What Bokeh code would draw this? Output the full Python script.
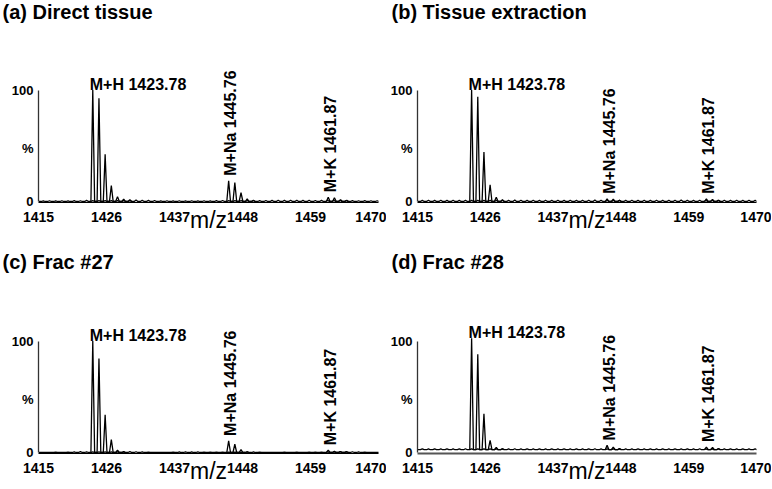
from bokeh.plotting import figure
from bokeh.models import Range1d, FixedTicker
from bokeh.layouts import row, column
from bokeh.core.properties import value
from bokeh.embed import file_html
from bokeh.resources import INLINE

# ---------------- data ----------------
x_ticks = [1415, 1426, 1437, 1448, 1459, 1470]
y_ticks = [0, 48, 100]
y_tick_labels = {0: "0", 48: "%", 100: "100"}
titles = ["(a) Direct tissue", "(b) Tissue extraction", "(c) Frac #27", "(d) Frac #28"]
ion_labels = ["M+H 1423.78", "M+Na 1445.76", "M+K 1461.87"]
ion_mz = [1423.78, 1445.76, 1461.87]
isotope_step = 1.0          # Da between isotope peaks / baseline ripples
noise_mz0 = 1415.78         # m/z of first baseline ripple

# isotope peak intensities (% of base peak) starting at each ion m/z
a_mh = [100, 92.6, 42.3, 14.2, 4.4, 2.0, 1.6]
a_mna = [18.6, 16.9, 8.0, 2.4, 1.0]
a_mk = [3.8, 3.3, 1.5, 1.0]

b_mh = [100, 94.0, 44.4, 15.0, 3.9, 1.5]
b_mna = [2.4, 2.0, 1.0]
b_mk = [2.4, 1.8, 1.0]

c_mh = [100, 84.3, 33.8, 11.6, 2.0, 0.8]
c_mna = [10.4, 7.4, 2.7, 0.6]
c_mk = [2.0, 1.2, 0.8, 0.6]

d_mh = [100, 85.7, 32.2, 8.4, 2.0, 0.8]
d_mna = [3.9, 2.4, 1.0]
d_mk = [2.4, 2.0, 1.0]

# baseline ripples (%), one per Da from 1415.78 to 1469.78
a_noise = [0.6, 0.7, 0.6, 0.7, 0.6, 0.8, 0.7, 1.0,
           0.8, 0.8, 0.8, 0.8, 0.8, 0.8, 0.8,
           1.4, 1.2, 1.0, 0.9,
           0.6, 0.7, 0.6, 0.7, 0.6, 0.7, 0.6, 0.7, 0.6, 0.8, 0.9,
           0.8, 0.8, 0.8, 0.8, 0.9,
           0.8, 0.9, 1.0, 1.1, 1.2, 1.1, 1.2, 1.0, 1.1, 0.9, 1.0,
           1.0, 1.0, 1.0, 0.9,
           0.8, 0.7, 0.8, 0.7, 0.7]
b_noise = [1.0, 1.1, 1.0, 1.1, 1.0, 1.1, 1.0, 1.2,
           1.0, 1.0, 1.0, 1.0, 1.0, 1.0, 1.0,
           1.3, 1.1, 1.0, 1.1,
           1.0, 1.1, 1.0, 1.1, 1.0, 1.1, 1.0, 1.2, 1.1, 1.3, 1.2,
           1.0, 1.0, 1.0, 1.0, 1.1,
           1.0, 1.1, 1.0, 1.1, 1.0, 1.2, 1.1, 1.3, 1.2, 1.0, 1.1,
           1.0, 1.1, 1.2, 1.1,
           1.0, 1.1, 1.0, 1.1, 1.0]
c_noise = [0.2, 0.2, 0.3, 0.2, 0.3, 0.6, 0.8, 0.6,
           0.5, 0.5, 0.5, 0.5, 0.5, 0.5, 0.8,
           0.7, 0.6, 0.3, 0.2,
           0.2, 0.2, 0.3, 0.5, 0.6, 0.5, 0.6, 0.4, 0.3, 0.3, 0.4,
           0.4, 0.4, 0.4, 0.6, 0.5,
           0.3, 0.2, 0.2, 0.2, 0.3, 0.2, 0.3, 0.2, 0.3, 0.3, 0.4,
           0.5, 0.6, 0.8, 0.8,
           0.7, 0.6, 0.3, 0.2, 0.2]
d_noise = [0.7, 0.8, 0.7, 0.8, 0.7, 0.8, 0.7, 0.9,
           0.7, 0.7, 0.7, 0.7, 0.7, 0.7, 0.8,
           0.9, 0.8, 0.7, 0.8,
           0.7, 0.8, 0.7, 0.8, 0.7, 0.8, 0.7, 0.8, 0.7, 0.9, 0.8,
           0.7, 0.7, 0.7, 0.8, 0.8,
           0.7, 0.8, 0.7, 0.8, 0.7, 0.8, 0.7, 0.8, 0.7, 0.8, 0.9,
           0.8, 0.8, 0.9, 0.8,
           0.7, 0.8, 0.7, 0.8, 0.7]

baseline = [0, 0, 0, 2.5]   # spectrum baseline above the axis (%)

panels = [
    (titles[0], [a_mh, a_mna, a_mk], a_noise, baseline[0]),
    (titles[1], [b_mh, b_mna, b_mk], b_noise, baseline[1]),
    (titles[2], [c_mh, c_mna, c_mk], c_noise, baseline[2]),
    (titles[3], [d_mh, d_mna, d_mk], d_noise, baseline[3]),
]

# ---------------- style / layout ----------------
FONT = "Liberation Sans"
HW = 0.3           # half width of a drawn peak (Da)
X0, X1 = x_ticks[0], x_ticks[-1]


def profile(mzs, heights, base):
    xs, ys = [], []
    for m, h in zip(mzs, heights):
        xs += [m - HW, m, m + HW]
        ys += [base, base + h, base]
    return xs, ys


def make_panel(title, clusters, noise, base, width, height, left, right,
               top, bottom, zero_px, hundred_px, title_offset):
    k = (zero_px - hundred_px) / 100.0
    frame_bottom = height - bottom
    y0 = -(frame_bottom - zero_px) / k
    y1 = (zero_px - top) / k
    p = figure(width=width, height=height, x_range=Range1d(X0, X1),
               y_range=Range1d(y0, y1), output_backend="svg",
               toolbar_location=None, min_border_left=left,
               min_border_right=right, min_border_top=top,
               min_border_bottom=bottom)
    p.grid.visible = False
    p.outline_line_color = None
    p.background_fill_color = "white"
    p.border_fill_color = "white"

    p.title.text = title
    p.title.align = "left"
    p.title.offset = title_offset
    p.title.vertical_align = "top"
    p.title.text_font = FONT
    p.title.text_font_size = "20px"
    p.title.text_font_style = "bold"
    p.title.text_color = "black"
    p.title.standoff = 0

    xa = p.xaxis[0]
    xa.ticker = FixedTicker(ticks=x_ticks)
    xa.major_tick_out = 0
    xa.major_tick_in = 0
    xa.minor_tick_line_color = None
    xa.major_label_standoff = 9
    xa.major_label_text_font = FONT
    xa.major_label_text_font_style = "bold"
    xa.major_label_text_font_size = "14px"
    xa.major_label_text_color = "black"
    xa.axis_label = "m/z"
    xa.axis_label_text_font = FONT
    xa.axis_label_text_font_style = "normal"
    xa.axis_label_text_font_size = "23px"
    xa.axis_label_text_color = "black"
    xa.axis_label_standoff = -18
    xa.axis_line_color = "#555555" if base > 0 else "black"
    xa.axis_line_width = 2 if base > 0 else 1

    ya = p.yaxis[0]
    ya.ticker = FixedTicker(ticks=y_ticks)
    ya.major_label_overrides = y_tick_labels
    ya.bounds = (y_ticks[0], y_ticks[-1])
    ya.major_tick_out = 0
    ya.major_tick_in = 0
    ya.minor_tick_line_color = None
    ya.major_label_standoff = 5
    ya.major_label_text_font = FONT
    ya.major_label_text_font_style = "bold"
    ya.major_label_text_font_size = "13px"
    ya.major_label_text_color = "black"
    ya.axis_line_color = "#333333"
    ya.axis_line_width = 1.3

    # spectrum
    xs_all, ys_all = [], []
    nmz = [noise_mz0 + i * isotope_step for i in range(len(noise))]
    nx, ny = profile(nmz, noise, base)
    xs_all.append([X0] + nx + [X1])
    ys_all.append([base] + ny + [base])
    for mz0, ints in zip(ion_mz, clusters):
        mzs = [mz0 + j * isotope_step for j in range(len(ints))]
        cx, cy = profile(mzs, ints, base)
        xs_all.append(cx)
        ys_all.append(cy)
    p.multi_line(xs=xs_all, ys=ys_all, line_color="black", line_width=1.3)

    # annotations
    p.text(x=[ion_mz[0]], y=[base + clusters[0][0]], text=[ion_labels[0]],
           x_offset=-3, y_offset=-6, text_align="left",
           text_baseline="alphabetic", text_font=value(FONT),
           text_font_style="bold", text_font_size="16px", text_color="black")
    p.text(x=ion_mz[1:], y=[base + clusters[1][0], base + clusters[2][0]],
           text=ion_labels[1:], angle=1.5707963, x_offset=2, y_offset=-5,
           text_align="left", text_baseline="middle", text_font=value(FONT),
           text_font_style="bold", text_font_size="16px", text_color="black")
    return p


W_L, W_R = 386, 385
H_T, H_B = 250, 238
figs = []
for i, (t, cl, nz, b) in enumerate(panels):
    left_col = (i % 2 == 0)
    top_row = (i < 2)
    w = W_L if left_col else W_R
    h = H_T if top_row else H_B
    lb = 38 if left_col else 31
    rb = 8 if left_col else 15
    tb = 23
    zero_px = 201 if top_row else 202
    hund_px = 89 if top_row else 90
    bb = h - (zero_px + 1)
    toff = -36 if left_col else -26
    figs.append(make_panel(t, cl, nz, b, w, h, lb, rb, tb, bb,
                           zero_px, hund_px, toff))

layout = column(row(figs[0], figs[1]), row(figs[2], figs[3]))
open("out.html", "w").write(file_html(layout, INLINE))
